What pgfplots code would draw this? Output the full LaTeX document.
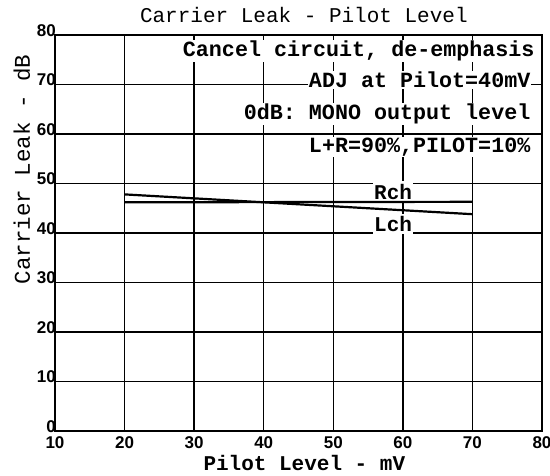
\documentclass[border=0pt]{standalone}
\usepackage{pgfplots}
\pgfplotsset{compat=1.18}
\usepackage{fontspec}
\setmainfont{Liberation Mono}
\newfontfamily\tickfont{Liberation Sans}
\begin{document}
\begin{tikzpicture}
\useasboundingbox (-55pt,-44pt) rectangle (495pt,431pt);
\begin{axis}[
  scale only axis, width=487pt, height=396pt,
  xmin=10, xmax=80, ymin=0, ymax=80,
  xtick={10,20,...,80}, ytick={0,10,...,80},
  grid=major, major grid style={black, line width=1.3pt},
  major tick length=0pt,
  axis line style={line width=1.8pt},
  tick label style={font=\tickfont\bfseries\fontsize{17}{17}\selectfont},
  /pgf/number format/assume math mode=true,
  yticklabel style={yshift=4.5pt, xshift=2pt, inner xsep=1pt},
  xticklabel style={yshift=-2.5pt},
  title={Carrier Leak - Pilot Level},
  title style={at={(axis description cs:0.511,1.035)}, anchor=center, font=\fontsize{21}{25}\selectfont},
  xlabel={Pilot Level - mV},
  xlabel style={at={(axis description cs:0.512,-0.08)}, anchor=center, font=\bfseries\fontsize{21}{25}\selectfont},
  ylabel={Carrier Leak - dB},
  ylabel style={at={(axis description cs:-0.068,0.66)}, anchor=center, rotate=0, font=\fontsize{22.5}{25}\selectfont},
]
\node[anchor=east, fill=white, inner sep=1pt, font=\bfseries\fontsize{21.7}{25}\selectfont] at (axis cs:79.1,76.8) {Cancel circuit, de-emphasis};
\node[anchor=east, fill=white, inner sep=1pt, font=\bfseries\fontsize{21.7}{25}\selectfont] at (axis cs:78.5,70.9) {ADJ at Pilot=40mV};
\node[anchor=east, fill=white, inner sep=1pt, font=\bfseries\fontsize{21.7}{25}\selectfont] at (axis cs:78.5,64.0) {0dB: MONO output level};
\node[anchor=east, fill=white, inner sep=1pt, font=\bfseries\fontsize{21.7}{25}\selectfont] at (axis cs:78.5,57.4) {L+R=90\%,PILOT=10\%};
\node[fill=white, inner sep=1pt, minimum height=22pt, font=\bfseries\fontsize{21}{24}\selectfont] at (axis cs:58.6,48.3) {Rch};
\node[fill=white, inner sep=1pt, minimum height=20pt, font=\bfseries\fontsize{21}{24}\selectfont] at (axis cs:58.6,41.8) {Lch};
\addplot[black, line width=2.2pt] coordinates {(20,47.8) (70,43.8)};
\addplot[black, line width=2.2pt] coordinates {(20,46.2) (70,46.3)};
\end{axis}
\end{tikzpicture}
\end{document}
